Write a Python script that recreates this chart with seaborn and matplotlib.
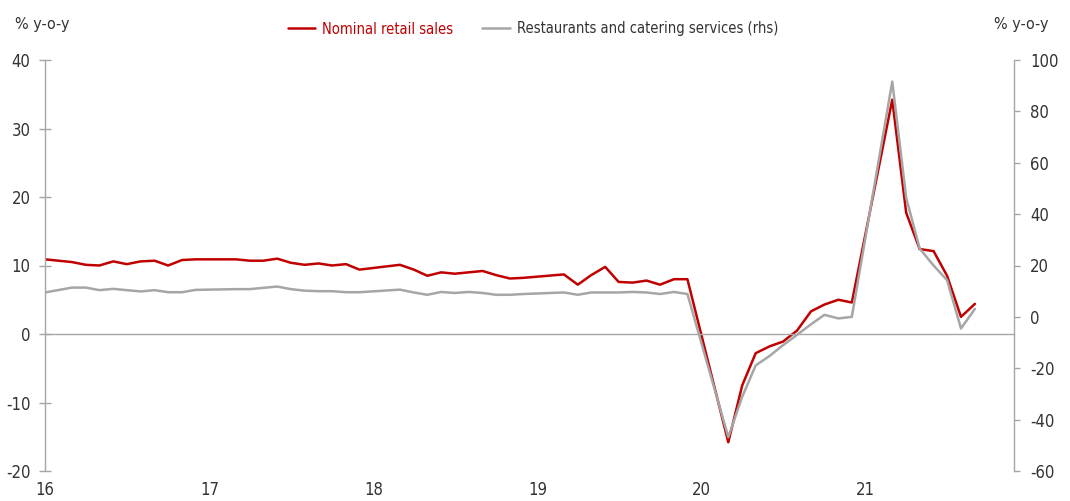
import matplotlib
matplotlib.use("Agg")
import matplotlib.pyplot as plt
import pandas as pd
import seaborn as sns

# ---- data (monthly, y-o-y %) ; Jan/Feb not published separately ----
months = [
    "2016-01", "2016-03", "2016-04", "2016-05", "2016-06", "2016-07", "2016-08", "2016-09", "2016-10", "2016-11", "2016-12",
    "2017-03", "2017-04", "2017-05", "2017-06", "2017-07", "2017-08", "2017-09", "2017-10", "2017-11", "2017-12",
    "2018-03", "2018-04", "2018-05", "2018-06", "2018-07", "2018-08", "2018-09", "2018-10", "2018-11", "2018-12",
    "2019-03", "2019-04", "2019-05", "2019-06", "2019-07", "2019-08", "2019-09", "2019-10", "2019-11", "2019-12",
    "2020-03", "2020-04", "2020-05", "2020-06", "2020-07", "2020-08", "2020-09", "2020-10", "2020-11", "2020-12",
    "2021-03", "2021-04", "2021-05", "2021-06", "2021-07", "2021-08", "2021-09",
]
retail_sales = [
    10.9, 10.5, 10.1, 10.0, 10.6, 10.2, 10.6, 10.7, 10.0, 10.8, 10.9,
    10.9, 10.7, 10.7, 11.0, 10.4, 10.1, 10.3, 10.0, 10.2, 9.4,
    10.1, 9.4, 8.5, 9.0, 8.8, 9.0, 9.2, 8.6, 8.1, 8.2,
    8.7, 7.2, 8.6, 9.8, 7.6, 7.5, 7.8, 7.2, 8.0, 8.0,
    -15.8, -7.5, -2.8, -1.8, -1.1, 0.5, 3.3, 4.3, 5.0, 4.6,
    34.2, 17.7, 12.4, 12.1, 8.5, 2.5, 4.4,
]
catering = [
    9.5, 11.4, 11.4, 10.4, 10.9, 10.4, 9.9, 10.4, 9.6, 9.6, 10.5,
    10.8, 10.8, 11.3, 11.8, 10.8, 10.2, 10.0, 10.0, 9.6, 9.6,
    10.6, 9.5, 8.6, 9.7, 9.3, 9.7, 9.3, 8.6, 8.6, 8.9,
    9.5, 8.6, 9.5, 9.5, 9.5, 9.7, 9.5, 8.9, 9.7, 8.9,
    -46.8, -31.1, -18.9, -15.2, -11.0, -7.0, -2.9, 0.8, -0.6, 0.0,
    91.6, 46.4, 26.6, 20.0, 14.3, -4.5, 3.1,
]
year_ticks = ["2016-01-01", "2017-01-01", "2018-01-01", "2019-01-01", "2020-01-01", "2021-01-01"]
year_labels = ["16", "17", "18", "19", "20", "21"]
left_ticks = [-20, -10, 0, 10, 20, 30, 40]
right_ticks = [-60, -40, -20, 0, 20, 40, 60, 80, 100]

df = pd.DataFrame({"date": pd.to_datetime(months), "retail": retail_sales, "catering": catering})

RED = "#C00000"
GREY = "#A6A6A6"
TXT = "#333333"

sns.set_style("white")
plt.rcParams["font.family"] = ["Liberation Sans Narrow", "DejaVu Sans"]
plt.rcParams["font.stretch"] = "condensed"
plt.rcParams["axes.unicode_minus"] = False

fig = plt.figure(figsize=(10.7, 5.01), dpi=100)
ax = fig.add_axes([45 / 1070, 1 - 471 / 501, (1014 - 45) / 1070, (471 - 60) / 501])
ax2 = ax.twinx()

sns.lineplot(data=df, x="date", y="retail", ax=ax, color=RED, linewidth=1.8,
             label="Nominal retail sales", legend=False)
sns.lineplot(data=df, x="date", y="catering", ax=ax2, color=GREY, linewidth=1.8,
             label="Restaurants and catering services (rhs)", legend=False)

ax.set_xlim(pd.Timestamp("2016-01-01"), pd.Timestamp("2021-11-27"))
ax.set_ylim(-20, 40)
ax2.set_ylim(-60, 100)
ax.set_yticks(left_ticks)
ax2.set_yticks(right_ticks)
ax.set_xticks(pd.to_datetime(year_ticks))
ax.set_xticklabels(year_labels)
ax.set_xlabel("")
ax.set_ylabel("")
ax2.set_ylabel("")
ax.grid(False)
ax2.grid(False)

for a in (ax, ax2):
    a.spines["top"].set_visible(False)
    for s in a.spines.values():
        s.set_color(GREY)
        s.set_linewidth(1.0)
ax.spines["right"].set_visible(False)
ax2.spines["left"].set_visible(False)
ax2.spines["bottom"].set_visible(False)
ax.spines["bottom"].set_position(("data", 0))

ax.tick_params(axis="y", direction="inout", length=8, width=1, color=GREY, pad=6.5,
               labelsize=12, labelcolor=TXT)
ax2.tick_params(axis="y", direction="out", length=4, width=1, color=GREY, pad=7.5,
                labelsize=12, labelcolor=TXT)
ax.tick_params(axis="x", direction="inout", length=8, width=1, color=GREY, pad=101.5,
               labelsize=12, labelcolor=TXT)

fig.text(15 / 1070, 1 - 25 / 501, "% y-o-y", ha="left", va="center", fontsize=11.5, color=TXT)
fig.text(1048 / 1070, 1 - 25 / 501, "% y-o-y", ha="right", va="center", fontsize=11.5, color=TXT)

h1, l1 = ax.get_legend_handles_labels()
h2, l2 = ax2.get_legend_handles_labels()
leg = fig.legend(h1 + h2, l1 + l2, loc="center", bbox_to_anchor=(0.498, 1 - 29 / 501), ncol=2,
                 frameon=False, fontsize=10.5, handlelength=1.9, handletextpad=0.45,
                 columnspacing=2.0)
for t, c in zip(leg.get_texts(), [RED, TXT]):
    t.set_color(c)

fig.savefig("out.png", dpi=100)
